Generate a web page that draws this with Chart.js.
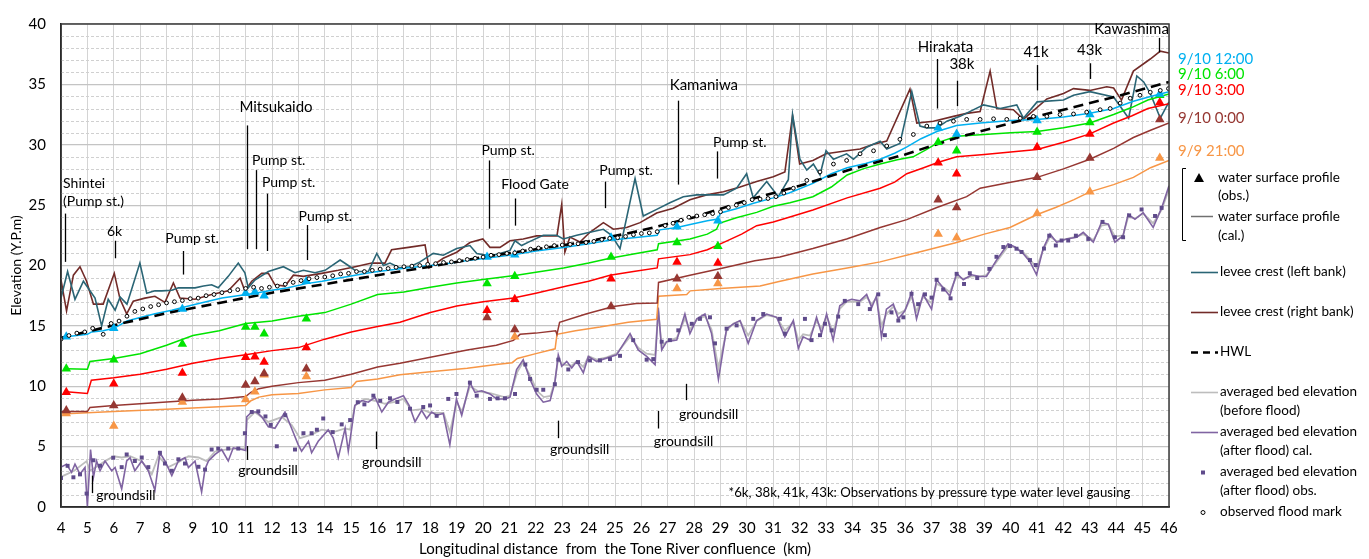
<!DOCTYPE html>
<html>
<head>
<meta charset="utf-8">
<title>Water surface profile</title>
<script src="https://cdn.jsdelivr.net/npm/chart.js@4.4.1/dist/chart.umd.min.js"></script>
<style>
  body { margin: 0; background: #fff; }
  #wrap { position: relative; width: 1369px; height: 559px; }
</style>
</head>
<body>
<div id="wrap"><canvas id="chart1" width="1369" height="559"></canvas></div>
<script>
// observation stations (km) for the triangles
const kmStations = [4.2, 6.0, 8.6, 11.0, 11.35, 11.7, 13.3, 20.15, 21.2, 24.85, 27.35, 28.9, 37.25, 37.95, 41.0, 43.0, 45.65];
// observed water surface (Y.P.m), null = no observation
const obs12 = [14.1, 14.8, 16.4, 17.7, 17.8, 17.5, 18.7, 20.7, 20.9, 22.3, 23.2, 23.7, 31.4, 30.9, 32.0, 32.5, 34.2];
const obs6  = [11.45, 12.2, 13.5, 14.9, 14.9, 14.35, 15.6, 18.5, 19.1, 20.7, 21.9, 21.6, 30.2, 29.5, 31.05, 31.85, 34.1];
const obs3  = [9.5, 10.2, 11.1, 12.4, 12.45, 12.0, 13.2, 16.3, 17.2, 18.9, 20.3, 20.2, 28.5, 27.6, 29.8, 30.9, 33.5];
const obs0  = [8.0, 8.4, 9.05, 10.1, 10.4, 11.05, 11.45, 15.7, 14.7, 16.6, 18.9, 19.1, 25.45, 24.8, 27.3, 28.9, 32.1];
const obs21 = [7.75, 6.7, 8.7, 8.9, 9.55, 10.95, 10.8, null, 14.1, null, 18.1, 18.5, 22.6, 22.3, 24.3, 26.1, 28.9];

// calculated water surface profiles [km, Y.P.m]
const ws12 = [[4.2,14.1],[4.6,14.2],[5.0,14.3],[5.16,14.5],[5.6,14.6],[6.0,14.8],[6.5,15.4],[7.0,15.7],[7.56,16.0],[8.2,16.3],[8.83,16.65],[9.5,17.0],[10.1,17.3],[10.7,17.5],[11.35,17.7],[12.0,17.95],[12.6,18.15],[13.3,18.5],[13.9,18.7],[14.5,18.95],[15.15,19.2],[15.8,19.45],[16.4,19.6],[17.1,19.8],[17.8,19.95],[18.5,20.1],[19.2,20.35],[20.1,20.6],[21.2,20.9],[22.0,21.2],[23.05,21.5],[24.0,21.8],[24.8,22.1],[25.7,22.3],[26.6,22.5],[26.7,22.95],[27.35,23.15],[27.85,23.4],[28.5,23.7],[28.9,23.85],[29.0,24.35],[29.6,24.7],[30.25,25.15],[31.0,25.6],[31.6,26.0],[32.5,26.8],[33.2,27.6],[33.8,28.1],[34.5,28.45],[35.05,28.8],[35.6,29.3],[36.05,29.8],[36.6,30.5],[37.2,31.1],[37.95,31.6],[38.85,31.8],[40.0,32.0],[41.0,32.1],[42.0,32.3],[43.0,32.6],[43.9,33.0],[44.65,33.6],[45.3,34.0],[46.0,34.4]];
const ws6 = [[4.2,11.45],[5.0,11.4],[5.1,12.05],[6.0,12.3],[7.0,12.7],[8.0,13.4],[9.0,14.2],[10.0,14.6],[11.0,15.2],[12.0,15.4],[13.0,15.8],[14.0,16.1],[15.0,16.8],[16.0,17.6],[17.0,17.8],[18.0,18.2],[19.0,18.55],[20.0,18.85],[21.27,19.2],[22.0,19.45],[23.05,19.8],[24.0,20.2],[24.81,20.6],[25.7,20.95],[26.6,21.3],[26.65,21.8],[27.84,22.2],[28.5,22.6],[28.85,23.0],[28.95,23.5],[29.6,23.95],[30.37,24.4],[31.0,24.9],[31.63,25.2],[32.5,25.7],[33.2,26.5],[33.8,27.5],[34.4,28.0],[35.05,28.4],[35.7,28.75],[36.3,29.0],[36.8,29.6],[37.26,30.2],[37.95,30.7],[39.0,30.85],[40.0,31.0],[41.0,31.1],[42.0,31.4],[43.0,31.8],[43.9,32.5],[44.6,33.1],[45.2,33.7],[46.0,34.2]];
const ws3 = [[4.2,9.55],[5.0,9.4],[5.15,10.5],[6.0,10.7],[7.0,11.0],[8.0,11.4],[9.0,11.9],[10.0,12.3],[11.0,12.6],[12.0,12.95],[13.0,13.2],[14.0,13.9],[15.0,14.5],[16.0,14.95],[16.85,15.3],[18.0,16.1],[19.0,16.65],[20.0,17.0],[21.15,17.3],[22.0,17.7],[23.17,18.3],[24.0,18.7],[24.81,19.2],[25.7,19.5],[26.6,19.8],[26.65,20.55],[27.84,20.9],[28.5,21.3],[29.1,21.9],[29.8,22.6],[30.37,23.3],[31.0,23.6],[31.6,24.0],[32.5,24.6],[33.8,25.6],[35.05,26.4],[35.6,26.9],[36.06,27.6],[36.7,28.1],[37.26,28.55],[37.95,29.0],[39.0,29.2],[40.0,29.4],[41.0,29.6],[42.0,30.2],[43.0,30.9],[43.9,31.8],[44.6,32.4],[45.2,33.0],[46.0,33.4]];
const ws0 = [[4.0,7.9],[5.0,7.9],[5.1,8.25],[6.0,8.4],[7.0,8.55],[8.0,8.7],[9.0,8.85],[10.0,8.95],[11.0,9.15],[11.2,9.5],[11.5,9.8],[12.0,10.0],[13.0,10.3],[14.0,10.5],[15.0,11.0],[16.0,11.6],[16.85,11.9],[18.0,12.4],[19.4,13.0],[20.5,13.4],[21.15,13.8],[21.4,14.3],[22.0,14.4],[22.75,14.6],[22.8,14.3],[22.9,15.3],[23.93,16.0],[24.94,16.6],[25.8,16.85],[26.6,16.9],[26.65,18.6],[27.84,19.2],[29.1,19.8],[30.3,20.4],[31.25,20.7],[32.5,21.4],[33.78,22.2],[35.05,23.15],[36.06,23.8],[37.2,24.8],[38.33,25.7],[38.84,26.4],[40.0,26.9],[41.0,27.3],[42.0,28.0],[43.0,28.8],[43.9,29.7],[44.65,30.6],[45.3,31.2],[46.0,31.8]];
const ws21 = [[4.0,7.7],[6.0,7.9],[8.0,8.1],[10.0,8.3],[11.0,8.4],[11.2,8.8],[11.5,9.1],[12.0,9.3],[13.0,9.4],[14.0,9.7],[15.0,9.9],[15.2,10.4],[16.0,10.6],[16.85,10.95],[18.0,11.2],[19.4,11.5],[20.5,11.8],[21.1,11.95],[21.3,12.3],[22.0,12.7],[22.73,13.1],[22.8,14.3],[23.5,14.6],[24.43,14.9],[25.5,15.3],[26.58,15.55],[26.65,17.45],[27.72,17.6],[27.85,17.9],[29.0,18.1],[30.5,18.3],[31.26,18.7],[32.5,19.3],[33.8,19.8],[35.05,20.3],[36.5,21.1],[37.95,21.9],[39.0,22.6],[39.97,23.15],[40.98,24.2],[41.7,24.8],[42.4,25.45],[43.0,26.1],[43.9,26.7],[44.65,27.3],[45.3,28.1],[46.0,28.7]];

// levee crests and HWL
const leveeLeft = [[4.0,17.3],[4.25,19.5],[4.53,17.2],[4.85,18.7],[5.29,17.3],[5.54,15.0],[5.79,17.2],[6.05,16.3],[6.24,17.4],[6.5,16.8],[6.99,20.2],[7.25,17.7],[7.56,17.9],[7.82,17.9],[8.2,17.95],[8.45,18.15],[9.08,18.15],[9.4,18.3],[9.71,18.4],[9.96,18.15],[10.34,19.1],[10.72,20.2],[10.97,19.4],[11.1,18.15],[11.35,18.8],[11.86,19.5],[12.43,19.9],[12.87,19.4],[13.19,19.6],[13.63,19.4],[14.01,19.6],[14.58,20.45],[14.89,20.0],[15.21,19.5],[15.65,19.5],[15.97,21.0],[16.22,20.0],[16.47,20.2],[16.85,19.8],[17.23,19.9],[17.61,20.3],[18.11,21.0],[18.49,20.85],[19.0,21.4],[19.5,21.65],[19.76,21.0],[20.26,20.8],[20.64,21.0],[21.02,21.25],[21.21,22.05],[21.46,21.65],[21.78,22.0],[22.28,22.5],[22.79,22.5],[23.04,22.2],[23.55,22.5],[24.05,22.75],[24.56,23.0],[24.87,22.5],[25.19,21.4],[25.76,27.2],[26.07,24.1],[26.58,24.65],[27.08,25.2],[27.59,25.7],[28.1,25.85],[28.6,25.85],[29.11,25.85],[29.61,26.4],[29.99,27.6],[30.24,25.6],[30.75,26.95],[31.19,25.7],[31.57,27.1],[31.73,32.5],[32.01,28.8],[32.27,27.9],[32.52,28.4],[32.77,27.5],[33.0,29.5],[33.28,28.8],[33.78,29.25],[34.04,28.8],[34.54,29.8],[35.05,30.3],[35.3,29.65],[35.8,30.1],[36.25,34.4],[36.56,31.55],[36.82,31.4],[37.2,31.4],[37.58,31.95],[38.08,32.35],[38.97,33.3],[39.6,33.0],[40.23,33.3],[40.48,32.2],[41.0,33.55],[42.0,33.7],[42.38,34.1],[43.0,34.4],[43.9,33.95],[44.47,32.2],[44.78,35.7],[45.04,35.2],[45.29,34.25],[45.67,32.2],[46.0,33.55]];
const leveeRight = [[4.0,18.8],[4.21,16.25],[4.47,19.2],[4.72,19.9],[4.97,18.7],[5.23,16.8],[5.6,16.8],[6.02,19.35],[6.24,17.2],[6.49,16.0],[6.74,17.05],[7.18,17.3],[7.56,17.45],[7.94,16.95],[8.26,18.55],[8.51,17.3],[9.08,17.2],[9.71,17.6],[10.34,17.9],[10.79,18.95],[10.97,17.9],[11.23,18.7],[11.61,19.35],[11.86,19.35],[12.11,18.4],[12.49,18.3],[12.81,19.2],[13.19,19.1],[13.88,19.35],[14.51,19.6],[15.15,19.9],[15.78,20.2],[16.28,20.2],[16.53,21.3],[17.17,21.5],[17.8,21.7],[17.95,19.8],[18.49,20.6],[19.0,21.1],[19.5,21.9],[19.99,22.2],[20.26,21.5],[20.64,21.5],[21.02,22.05],[21.52,22.2],[22.03,22.45],[22.8,22.45],[22.98,25.05],[23.1,21.1],[23.29,22.35],[23.67,21.95],[24.05,22.75],[24.56,23.55],[24.94,23.0],[25.44,23.15],[25.95,23.55],[26.58,24.35],[27.21,24.75],[27.84,25.45],[28.47,25.85],[29.11,26.1],[29.74,26.5],[30.37,26.95],[31.0,27.35],[31.44,27.75],[31.73,32.4],[32.0,28.4],[32.5,28.7],[33.0,29.25],[33.78,29.5],[34.29,29.65],[34.8,30.05],[35.3,30.3],[36.18,34.6],[36.44,31.8],[37.07,31.95],[37.83,32.35],[38.33,32.6],[38.84,32.75],[39.22,36.1],[39.47,33.0],[40.1,32.9],[40.48,32.1],[41.37,33.8],[42.0,34.25],[42.38,34.65],[43.0,34.5],[43.64,34.8],[43.9,34.7],[44.2,33.7],[44.65,36.1],[45.29,37.1],[45.67,37.75],[46.0,37.6]];
const hwl = [[4.0,14.0],[6.0,15.05],[8.0,16.05],[10.0,16.9],[12.0,17.75],[14.0,18.45],[16.0,19.2],[18.0,19.9],[20.0,20.7],[22.0,21.35],[24.0,22.0],[26.0,22.9],[28.0,24.0],[30.0,25.4],[32.0,26.6],[34.0,28.0],[36.0,29.2],[38.0,30.6],[40.0,31.8],[42.0,32.9],[44.0,34.0],[46.0,35.2]];

// observed flood marks
const floodMarks = [[4.0,13.9],[4.3,14.2],[4.6,14.4],[4.9,14.5],[5.2,14.8],[5.6,14.3],[5.9,15.2],[6.2,15.4],[6.5,15.8],[6.8,16.2],[7.1,16.4],[7.4,16.6],[7.7,16.75],[8.0,16.9],[8.3,17.0],[8.6,17.1],[8.9,17.25],[9.2,17.3],[9.5,17.5],[9.8,17.6],[10.1,17.75],[10.4,17.9],[10.7,18.0],[11.0,18.1],[11.3,18.2],[11.6,18.1],[11.9,18.2],[12.2,18.3],[12.5,18.45],[12.8,18.6],[13.1,18.75],[13.4,18.9],[13.7,19.0],[14.0,19.05],[14.3,19.15],[14.6,19.3],[14.9,19.35],[15.2,19.5],[15.5,19.5],[15.8,19.6],[16.1,19.7],[16.4,19.75],[16.7,19.85],[17.0,19.9],[17.3,19.95],[17.6,20.0],[17.9,20.1],[18.2,20.15],[18.5,20.25],[18.8,20.3],[19.1,20.4],[19.4,20.5],[19.7,20.6],[20.0,20.7],[20.3,20.85],[20.6,20.9],[20.9,21.0],[21.2,21.05],[21.5,21.2],[21.8,21.35],[22.1,21.45],[22.4,21.55],[22.7,21.65],[23.0,21.7],[23.3,21.75],[23.6,21.8],[23.9,21.9],[24.2,22.0],[24.5,22.15],[24.8,22.25],[25.1,22.3],[25.4,22.4],[25.7,22.55],[26.0,22.65],[26.3,22.7],[26.6,22.8],[26.9,23.3],[27.2,23.5],[27.5,23.75],[27.8,24.0],[28.1,24.1],[28.4,24.2],[28.7,24.3],[29.0,24.45],[29.3,24.8],[29.6,25.0],[29.9,25.2],[30.2,25.45],[30.5,25.5],[30.8,25.55],[31.1,25.7],[31.4,26.0],[31.76,26.4],[32.27,27.05],[32.77,27.75],[33.28,28.4],[33.78,28.7],[34.29,29.25],[34.8,29.5],[35.3,29.9],[35.8,30.45],[36.31,30.85],[36.82,31.55],[37.32,31.8],[37.83,31.95],[38.33,32.1],[38.84,32.1],[39.35,32.15],[39.85,32.1],[40.36,32.2],[40.86,32.35],[41.37,32.35],[41.87,32.5],[42.38,32.55],[42.88,32.7],[43.39,32.9],[43.77,33.0],[44.15,33.45],[44.53,33.85],[44.9,34.1],[45.29,34.35],[45.67,34.5],[45.98,34.65]];

// averaged bed elevation
const bedBefore = [[4.0,2.5],[4.5,3.0],[4.97,3.8],[5.1,3.0],[5.4,3.4],[5.67,3.8],[6.0,4.2],[6.3,4.1],[6.62,4.2],[7.06,3.8],[7.44,2.7],[7.69,4.2],[8.07,3.3],[8.45,3.7],[8.83,4.2],[9.21,4.1],[9.52,3.8],[9.84,4.6],[10.34,4.8],[10.97,4.85],[11.04,7.2],[11.35,7.85],[11.86,7.05],[12.37,7.45],[12.74,6.8],[13.06,5.7],[13.5,6.0],[13.88,6.4],[14.39,6.25],[14.77,6.5],[14.96,6.4],[15.14,8.4],[15.52,8.95],[15.9,8.8],[16.28,8.55],[16.66,8.7],[16.98,8.95],[17.29,8.0],[17.67,8.1],[18.0,7.8],[18.5,7.8],[18.74,6.2],[19.0,8.7],[19.2,7.9],[19.5,10.0],[19.8,9.6],[20.3,9.4],[20.8,9.1],[21.02,9.2],[21.3,11.2],[21.52,12.0],[21.8,10.8],[22.05,9.6],[22.3,9.1],[22.55,9.2],[22.72,10.4],[22.85,12.3],[23.0,11.8],[23.36,11.7],[23.55,12.1],[23.8,11.6],[24.0,12.5],[24.3,12.2],[24.68,12.4],[25.06,12.7],[25.57,14.1],[25.88,13.2],[26.2,12.7],[26.52,12.6],[26.64,16.2],[26.77,13.3],[26.96,13.7],[27.34,14.0],[27.65,15.6],[27.84,14.7],[28.1,15.5],[28.41,15.8],[28.66,14.7],[28.92,11.5],[29.23,14.6],[29.49,15.2],[29.74,15.4],[30.05,14.2],[30.37,15.4],[30.75,15.9],[31.13,15.7],[31.44,14.6],[31.76,15.3],[31.95,13.8],[32.13,14.3],[32.39,14.2],[32.64,15.4],[32.83,14.8],[33.02,15.8],[33.27,14.5],[33.52,16.4],[33.78,17.0],[34.28,17.0],[34.54,17.4],[34.73,16.8],[34.91,17.3],[35.1,15.0],[35.29,16.0],[35.55,16.6],[35.74,16.0],[35.99,16.3],[36.24,17.4],[36.43,16.2],[36.68,17.4],[37.0,16.9],[37.19,18.5],[37.44,18.2],[37.69,17.8],[37.95,19.1],[38.2,18.9],[38.52,19.1],[38.83,19.1],[39.08,19.2],[39.46,20.3],[39.9,21.6],[40.16,21.5],[40.47,21.1],[40.73,20.5],[40.98,19.8],[41.23,21.3],[41.49,22.4],[41.74,22.0],[42.12,22.2],[42.5,22.4],[42.75,22.6],[43.13,22.1],[43.44,23.3],[43.7,23.4],[43.95,22.4],[44.26,22.5],[44.45,24.0],[44.71,23.9],[45.02,24.3],[45.4,23.5],[45.72,24.6],[46.0,26.3]];
const bedAfterCal = [[4.0,3.3],[4.21,3.54],[4.4,2.87],[4.53,3.54],[4.72,2.73],[4.91,3.27],[5.0,0.03],[5.12,4.76],[5.23,2.46],[5.35,3.81],[5.48,3.0],[5.67,3.81],[5.92,3.0],[6.05,3.27],[6.3,1.51],[6.49,3.81],[6.62,4.08],[6.8,3.0],[7.06,3.81],[7.31,3.0],[7.56,1.38],[7.75,4.49],[7.94,3.81],[8.2,2.6],[8.45,3.81],[8.7,4.08],[8.83,3.27],[9.08,3.81],[9.33,1.24],[9.46,3.14],[9.59,3.81],[9.84,4.35],[10.09,4.76],[10.34,3.81],[10.53,4.9],[10.85,4.76],[11.0,4.68],[11.04,7.47],[11.23,7.87],[11.42,7.87],[11.61,7.47],[11.86,6.65],[12.11,6.52],[12.49,7.87],[12.74,6.52],[12.99,5.17],[13.12,4.63],[13.38,5.44],[13.5,4.49],[13.75,5.44],[14.13,6.38],[14.32,5.71],[14.51,4.08],[14.77,6.52],[14.89,4.63],[15.02,6.52],[15.14,8.41],[15.4,8.82],[15.65,8.68],[15.9,9.09],[16.16,7.87],[16.41,8.68],[16.66,8.95],[16.98,9.22],[17.2,8.4],[17.42,7.06],[17.67,8.0],[17.86,7.33],[18.05,7.87],[18.24,7.6],[18.49,7.74],[18.74,5.17],[18.99,8.95],[19.19,7.6],[19.5,10.3],[19.69,9.49],[19.95,9.63],[20.26,9.36],[20.51,8.95],[20.83,8.95],[21.02,9.09],[21.27,11.39],[21.52,12.2],[21.78,10.57],[22.03,9.36],[22.28,8.68],[22.54,8.82],[22.72,10.3],[22.85,12.6],[22.98,11.66],[23.17,12.06],[23.36,11.52],[23.55,12.06],[23.8,11.12],[23.99,12.47],[24.3,12.06],[24.68,12.33],[25.06,12.6],[25.57,14.36],[25.88,13.01],[26.2,12.47],[26.52,11.79],[26.64,16.52],[26.77,13.01],[26.96,13.69],[27.34,13.82],[27.65,15.98],[27.84,14.36],[28.1,15.58],[28.41,15.98],[28.66,14.36],[28.92,10.57],[29.23,14.77],[29.49,15.17],[29.74,15.44],[30.05,13.55],[30.37,15.44],[30.75,15.98],[31.13,15.71],[31.44,14.09],[31.76,15.44],[31.95,13.14],[32.13,14.09],[32.39,13.82],[32.64,15.71],[32.83,14.36],[33.02,15.98],[33.27,13.82],[33.52,16.66],[33.78,17.07],[33.97,17.2],[34.28,17.07],[34.54,17.61],[34.73,16.52],[34.91,17.47],[35.1,14.09],[35.29,16.39],[35.55,16.8],[35.74,15.58],[35.99,16.25],[36.24,17.74],[36.43,15.58],[36.68,17.61],[37.0,16.39],[37.19,18.82],[37.44,18.15],[37.69,17.47],[37.95,19.36],[38.2,18.82],[38.52,19.23],[38.83,19.09],[39.08,19.09],[39.46,20.45],[39.9,21.8],[40.16,21.53],[40.47,20.99],[40.73,20.31],[40.98,19.23],[41.23,21.4],[41.49,22.61],[41.74,21.93],[42.12,22.2],[42.5,22.34],[42.75,22.74],[43.13,21.93],[43.44,23.56],[43.7,23.42],[43.95,21.93],[44.26,22.47],[44.45,24.23],[44.71,23.83],[45.02,24.37],[45.4,23.15],[45.72,24.77],[46.0,26.6]];
const bedAfterObs = [[4.0,2.41],[4.25,3.41],[4.47,2.46],[4.72,2.7],[4.97,1.11],[5.23,3.87],[5.48,3.41],[5.98,4.08],[6.3,3.3],[6.49,4.35],[6.8,3.81],[7.06,4.1],[7.31,3.3],[7.75,4.49],[7.94,3.6],[8.2,3.0],[8.45,3.95],[8.7,3.6],[9.21,3.33],[9.46,3.1],[9.71,4.76],[9.96,4.84],[10.34,4.84],[10.72,4.84],[10.97,6.11],[11.23,7.87],[11.48,7.92],[11.75,7.5],[11.95,6.8],[12.18,5.03],[12.5,7.6],[12.87,4.76],[13.19,6.11],[13.5,6.11],[13.7,6.4],[13.94,7.33],[14.3,6.2],[14.64,6.84],[14.96,7.2],[15.25,8.68],[15.5,8.5],[15.84,9.22],[16.1,8.8],[16.47,9.0],[16.75,8.7],[17.23,8.14],[17.73,8.28],[17.99,8.41],[18.24,7.55],[18.68,8.95],[18.99,9.36],[19.5,10.3],[19.76,9.22],[20.26,8.95],[20.55,9.0],[20.83,9.0],[21.21,9.36],[21.6,11.8],[21.78,10.6],[22.03,9.71],[22.28,9.71],[22.72,10.17],[22.85,12.2],[23.23,11.39],[23.6,12.0],[24.05,12.14],[24.43,12.14],[24.81,12.25],[25.19,12.52],[25.69,13.82],[26.2,12.2],[26.45,12.25],[26.77,13.69],[27.08,13.82],[27.4,14.63],[27.91,15.17],[28.22,15.58],[28.6,15.71],[28.79,13.55],[29.23,14.77],[29.61,15.04],[30.24,15.58],[30.62,15.98],[31.25,15.58],[31.44,14.36],[32.2,15.58],[32.45,13.82],[32.77,14.23],[32.96,15.17],[33.21,14.63],[33.46,15.77],[33.71,17.07],[34.22,16.8],[34.66,16.39],[34.98,17.61],[35.23,14.23],[35.48,16.12],[35.74,15.44],[35.93,15.71],[36.24,17.66],[36.49,16.8],[36.75,17.61],[37.0,17.34],[37.19,18.82],[37.44,18.01],[37.72,17.28],[37.95,19.31],[38.23,18.47],[38.45,19.36],[38.73,18.96],[39.19,19.72],[39.46,20.72],[39.72,21.53],[39.97,21.61],[40.22,21.39],[40.41,21.12],[40.73,20.45],[40.95,20.04],[41.26,21.4],[41.46,22.47],[41.71,21.66],[41.93,22.07],[42.18,22.07],[42.47,22.47],[42.94,22.2],[43.48,23.61],[43.95,22.34],[44.26,22.34],[44.49,24.15],[44.96,24.64],[45.47,24.1],[45.72,24.77]];

// site labels along the river (text, km of marker line, marker line ends in Y.P.m, label position)
const siteLabels = [
  {text: 'Shintei', lx: 4.08, ly: 26.8, align: 'left'},
  {text: '(Pump st.)', lx: 4.08, ly: 25.3, align: 'left', km: 4.15, top: 24.3, bottom: 20.3},
  {text: '6k', lx: 6.03, ly: 22.8, km: 6.03, top: 22.05, bottom: 20.6},
  {text: 'Pump st.', lx: 8.97, ly: 22.25, km: 8.61, top: 21.2, bottom: 19.25},
  {text: 'Mitsukaido', lx: 12.15, ly: 33.15, km: 11.05, top: 31.6, bottom: 21.35, big: true},
  {text: 'Pump st.', lx: 12.25, ly: 28.7, km: 11.4, top: 27.9, bottom: 21.35},
  {text: 'Pump st.', lx: 12.63, ly: 26.9, km: 11.81, top: 25.95, bottom: 21.2},
  {text: 'Pump st.', lx: 14.02, ly: 24.1, km: 13.31, top: 23.35, bottom: 20.45},
  {text: 'Pump st.', lx: 20.95, ly: 29.5, km: 20.21, top: 28.7, bottom: 23.05},
  {text: 'Flood Gate', lx: 21.97, ly: 26.75, km: 21.2, top: 25.55, bottom: 23.3},
  {text: 'Pump st.', lx: 25.42, ly: 27.9, km: 24.63, top: 26.95, bottom: 24.75},
  {text: 'Kamaniwa', lx: 28.37, ly: 34.9, km: 27.4, top: 33.65, bottom: 26.7, big: true},
  {text: 'Pump st.', lx: 29.73, ly: 30.2, km: 28.87, top: 29.45, bottom: 27.2},
  {text: 'Hirakata', lx: 37.53, ly: 38.05, km: 37.2, top: 37.1, bottom: 33.0, big: true},
  {text: '38k', lx: 38.15, ly: 36.65, km: 37.98, top: 35.3, bottom: 33.2, big: true},
  {text: '41k', lx: 40.96, ly: 37.65, km: 41.0, top: 36.6, bottom: 34.5, big: true},
  {text: '43k', lx: 42.99, ly: 37.8, km: 43.02, top: 36.75, bottom: 35.45, big: true},
  {text: 'Kawashima', lx: 44.58, ly: 39.6, km: 45.62, top: 38.85, bottom: 37.65, big: true},
  {text: 'groundsill', lx: 6.46, ly: 0.97, km: 5.19, top: 2.6, bottom: 1.15},
  {text: 'groundsill', lx: 11.85, ly: 3.06, km: 11.06, top: 5.05, bottom: 3.9},
  {text: 'groundsill', lx: 16.54, ly: 3.68, km: 15.93, top: 6.25, bottom: 4.8},
  {text: 'groundsill', lx: 23.66, ly: 4.8, km: 22.85, top: 7.15, bottom: 5.7},
  {text: 'groundsill', lx: 27.6, ly: 5.45, km: 26.64, top: 7.95, bottom: 6.5},
  {text: 'groundsill', lx: 28.55, ly: 7.65, km: 27.69, top: 10.2, bottom: 8.85}
];

const colors = {
  t12: '#00B0F0', t6: '#00E400', t3: '#FF0000', t0: '#963732', t21: '#F79646',
  leveeL: '#2A6575', leveeR: '#722B28', hwl: '#000000',
  bedBefore: '#BDBDBD', bedCal: '#8064A2', bedObs: '#5F4B8B'
};
const FONT = 'Lato, "Open Sans", sans-serif';

function toXY(list) {
  return list.map(p => ({x: p[0], y: p[1]}));
}
function stationXY(vals) {
  const out = [];
  kmStations.forEach((k, i) => { if (vals[i] !== null) out.push({x: k, y: vals[i]}); });
  return out;
}
function lineSet(label, list, color, width, extra) {
  return Object.assign({
    label: label, data: toXY(list), borderColor: color, backgroundColor: color,
    borderWidth: width, pointRadius: 0, tension: 0, fill: false
  }, extra || {});
}
function triSet(label, vals, color) {
  return {
    label: label, data: stationXY(vals), showLine: false, pointStyle: 'triangle',
    pointRadius: 5.5, backgroundColor: color, borderColor: color, borderWidth: 0, order: 1
  };
}

const datasets = [
  triSet('obs 9/10 12:00', obs12, colors.t12),
  triSet('obs 9/10 6:00', obs6, colors.t6),
  triSet('obs 9/10 3:00', obs3, colors.t3),
  triSet('obs 9/10 0:00', obs0, colors.t0),
  triSet('obs 9/9 21:00', obs21, colors.t21),
  {label: 'observed flood mark', data: toXY(floodMarks), showLine: false, pointStyle: 'circle',
   pointRadius: 1.9, borderWidth: 1, borderColor: '#000', backgroundColor: '#fff', order: 0},
  {label: 'bed obs', data: toXY(bedAfterObs), showLine: false, pointStyle: 'rect',
   pointRadius: 2.8, borderWidth: 0, backgroundColor: colors.bedObs, borderColor: colors.bedObs, order: 2},
  lineSet('HWL', hwl, colors.hwl, 2.6, {borderDash: [10, 6], order: 3}),
  lineSet('9/10 12:00', ws12, colors.t12, 1.5, {order: 4}),
  lineSet('9/10 6:00', ws6, colors.t6, 1.5, {order: 4}),
  lineSet('9/10 3:00', ws3, colors.t3, 1.5, {order: 4}),
  lineSet('9/10 0:00', ws0, colors.t0, 1.5, {order: 4}),
  lineSet('9/9 21:00', ws21, colors.t21, 1.5, {order: 4}),
  lineSet('levee crest (left bank)', leveeLeft, colors.leveeL, 1.6, {order: 5}),
  lineSet('levee crest (right bank)', leveeRight, colors.leveeR, 1.6, {order: 5}),
  lineSet('bed cal', bedAfterCal, colors.bedCal, 1.6, {order: 6}),
  lineSet('bed before', bedBefore, colors.bedBefore, 1.8, {order: 7})
];

// dashed minor grid lines and the frame around the plot
const gridPlugin = {
  id: 'minorGrid',
  beforeDatasetsDraw(chart) {
    const {ctx, chartArea: a, scales: {y}} = chart;
    ctx.save();
    ctx.strokeStyle = '#d0d0d0';
    ctx.lineWidth = 1;
    ctx.setLineDash([3, 2]);
    for (let v = 1; v < 40; v++) {
      if (v % 5 === 0) continue;
      const py = Math.round(y.getPixelForValue(v)) + 0.5;
      ctx.beginPath();
      ctx.moveTo(a.left, py);
      ctx.lineTo(a.right, py);
      ctx.stroke();
    }
    ctx.restore();
  },
  afterDatasetsDraw(chart) {
    const {ctx, chartArea: a} = chart;
    ctx.save();
    ctx.strokeStyle = '#3a3a3a';
    ctx.lineWidth = 1.5;
    ctx.strokeRect(a.left, a.top, a.right - a.left, a.bottom - a.top);
    ctx.restore();
  }
};

const labelPlugin = {
  id: 'siteLabels',
  afterDatasetsDraw(chart) {
    const {ctx, scales: {x, y}} = chart;
    ctx.save();
    ctx.fillStyle = '#000';
    ctx.strokeStyle = '#000';
    ctx.lineWidth = 1.3;
    ctx.textBaseline = 'middle';
    siteLabels.forEach(s => {
      if (s.km !== undefined) {
        const px = Math.round(x.getPixelForValue(s.km)) + 0.5;
        ctx.beginPath();
        ctx.moveTo(px, y.getPixelForValue(s.top));
        ctx.lineTo(px, y.getPixelForValue(s.bottom));
        ctx.stroke();
      }
      ctx.font = (s.big ? '15px ' : '14px ') + FONT;
      ctx.textAlign = s.align || 'center';
      ctx.fillText(s.text, x.getPixelForValue(s.lx), y.getPixelForValue(s.ly));
    });
    ctx.font = '13.2px ' + FONT;
    ctx.textAlign = 'center';
    ctx.fillText('*6k, 38k, 41k, 43k: Observations by pressure type water level gausing',
      x.getPixelForValue(36.92), y.getPixelForValue(1.22));
    ctx.restore();
  }
};

const timeLabels = [
  {text: '9/10 12:00', color: colors.t12, py: 59},
  {text: '9/10 6:00', color: colors.t6, py: 74},
  {text: '9/10 3:00', color: colors.t3, py: 90},
  {text: '9/10 0:00', color: colors.t0, py: 118},
  {text: '9/9 21:00', color: colors.t21, py: 151}
];

const legendPlugin = {
  id: 'sideLegend',
  afterDraw(chart) {
    const ctx = chart.ctx;
    const x0 = chart.chartArea.right;
    const tx = x0 + 50;
    ctx.save();
    ctx.textBaseline = 'middle';
    ctx.textAlign = 'left';
    ctx.font = '15px ' + FONT;
    timeLabels.forEach(t => { ctx.fillStyle = t.color; ctx.fillText(t.text, x0 + 9, t.py); });

    ctx.fillStyle = '#000';
    ctx.font = '13.5px ' + FONT;
    // bracket
    ctx.strokeStyle = '#000';
    ctx.lineWidth = 1;
    ctx.beginPath();
    ctx.moveTo(x0 + 17, 168.5); ctx.lineTo(x0 + 13.5, 168.5);
    ctx.lineTo(x0 + 13.5, 240.5); ctx.lineTo(x0 + 17, 240.5);
    ctx.stroke();
    // triangle
    ctx.beginPath();
    ctx.moveTo(x0 + 30, 173); ctx.lineTo(x0 + 35, 182); ctx.lineTo(x0 + 25, 182); ctx.closePath();
    ctx.fill();
    ctx.fillText('water surface profile', tx - 1, 178);
    ctx.fillText('(obs.)', tx - 1, 196);
    // cal line
    ctx.strokeStyle = '#707070';
    ctx.lineWidth = 1.5;
    ctx.beginPath(); ctx.moveTo(x0 + 22, 216.5); ctx.lineTo(x0 + 44, 216.5); ctx.stroke();
    ctx.fillText('water surface profile', tx - 1, 217);
    ctx.fillText('(cal.)', tx - 1, 236);

    const rows = [
      {py: 272, color: colors.leveeL, text: ['levee crest (left bank)']},
      {py: 312, color: colors.leveeR, text: ['levee crest (right bank)']},
      {py: 352, color: '#000', dash: [7, 5], width: 2.5, text: ['HWL']},
      {py: 392, color: colors.bedBefore, text: ['averaged bed elevation', '(before flood)']},
      {py: 432, color: colors.bedCal, text: ['averaged bed elevation', '(after flood) cal.']}
    ];
    rows.forEach(r => {
      ctx.strokeStyle = r.color;
      ctx.lineWidth = r.width || 1.6;
      ctx.setLineDash(r.dash || []);
      ctx.beginPath(); ctx.moveTo(x0 + 22, r.py + 0.5); ctx.lineTo(x0 + 49, r.py + 0.5); ctx.stroke();
      ctx.setLineDash([]);
      r.text.forEach((t, i) => ctx.fillText(t, tx + 1, r.py + i * 18.5));
    });
    ctx.fillStyle = colors.bedObs;
    ctx.fillRect(x0 + 32, 470.5, 4, 4);
    ctx.fillStyle = '#000';
    ctx.fillText('averaged bed elevation', tx + 1, 472);
    ctx.fillText('(after flood) obs.', tx + 1, 490.5);
    ctx.beginPath();
    ctx.arc(x0 + 34, 512.5, 2, 0, Math.PI * 2);
    ctx.lineWidth = 1;
    ctx.strokeStyle = '#000';
    ctx.stroke();
    ctx.fillText('observed flood mark', tx + 1, 512);
    ctx.restore();
  }
};

const config = {
  type: 'line',
  data: {datasets: datasets},
  options: {
    responsive: false,
    animation: false,
    layout: {padding: {left: 0, top: 14, right: 200, bottom: 0}},
    plugins: {legend: {display: false}, tooltip: {enabled: false}},
    scales: {
      x: {
        type: 'linear', min: 4, max: 46,
        afterFit: function (scale) { scale.height = 52; },
        ticks: {stepSize: 1, autoSkip: false, maxRotation: 0, padding: 12, color: '#000',
                font: {family: FONT, size: 15}},
        grid: {color: '#d4d4d4', lineWidth: 1, drawTicks: false},
        border: {color: '#000', width: 1.5},
        title: {display: true, text: 'Longitudinal distance  from  the Tone River confluence  (km)',
                color: '#000', font: {family: FONT, size: 15}, padding: {top: 0, bottom: 1}}
      },
      y: {
        type: 'linear', min: 0, max: 40,
        afterFit: function (scale) { scale.width = 61; },
        ticks: {stepSize: 5, padding: 15, color: '#000', font: {family: FONT, size: 15}},
        grid: {color: '#c4c4c4', lineWidth: 1.2, drawTicks: false},
        border: {color: '#000', width: 1.5},
        title: {display: true, text: 'Elevation (Y.P.m)', color: '#000',
                font: {family: FONT, size: 14}, padding: {top: 8, bottom: 0}}
      }
    }
  },
  plugins: [gridPlugin, labelPlugin, legendPlugin]
};

let chart1 = new Chart(document.getElementById('chart1'), config);
</script>
</body>
</html>
